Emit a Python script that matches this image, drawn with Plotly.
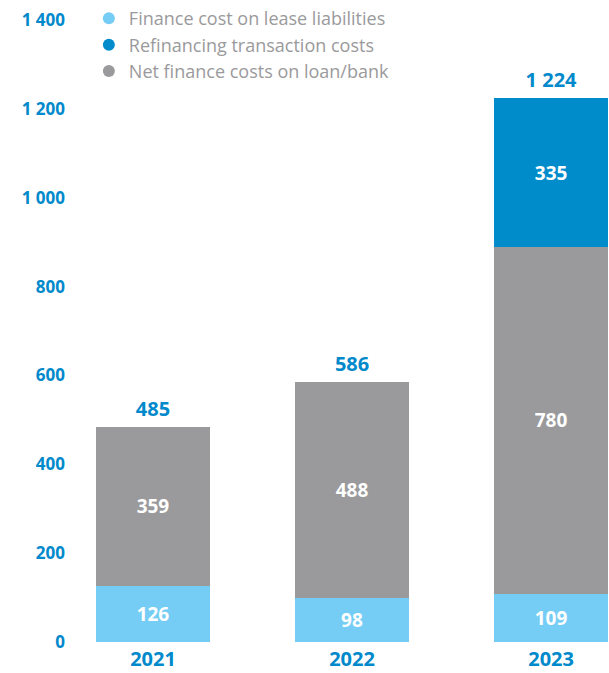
import plotly.graph_objects as go

years = ["2021", "2022", "2023"]
lease = [126, 98, 109]
net_loan = [359, 488, 780]
refin = [None, None, 335]
totals = [485, 586, 1224]
total_labels = ["485", "586", "1 224"]
ytick_vals = [0, 200, 400, 600, 800, 1000, 1200, 1400]
ytick_text = ["0", "200", "400", "600", "800", "1 000", "1 200", "1 400"]

C_LIGHT = "#75CDF5"
C_DARK = "#008BCB"
C_GRAY = "#9A9A9C"
C_TEXT = "#0089CB"
FONT = "Open Sans"

fig = go.Figure()

def bar(vals, color, name):
    fig.add_trace(go.Bar(
        x=years, y=vals, marker=dict(color=color, line=dict(width=0)),
        name=name, showlegend=False,
        text=[("" if v is None else str(v)) for v in vals],
        textposition="inside", insidetextanchor="middle",
        textfont=dict(color="white", size=19, family=FONT, weight="bold"),
        constraintext="none", hoverinfo="skip",
    ))

bar(lease, C_LIGHT, "Finance cost on lease liabilities")
bar(net_loan, C_GRAY, "Net finance costs on loan/bank")
bar(refin, C_DARK, "Refinancing transaction costs")

fig.add_trace(go.Scatter(
    x=years, y=totals, mode="markers+text", text=total_labels, textposition="top center",
    marker=dict(size=8, opacity=0),
    textfont=dict(color=C_TEXT, size=20, family=FONT, weight="bold"),
    showlegend=False, hoverinfo="skip", cliponaxis=False,
))

legend_items = [("Finance cost on lease liabilities", C_LIGHT),
                ("Refinancing transaction costs", C_DARK),
                ("Net finance costs on loan/bank", C_GRAY)]
for i, (nm, col) in enumerate(legend_items):
    fig.add_trace(go.Scatter(
        x=[None], y=[None], mode="markers", name=nm,
        marker=dict(symbol="circle", size=15, color=col),
        legendrank=i + 1, showlegend=True,
    ))

fig.update_layout(
    width=609, height=673,
    margin=dict(l=70, r=0, t=20, b=31, autoexpand=False),
    paper_bgcolor="white", plot_bgcolor="white",
    barmode="stack", bargap=0.427,
    showlegend=True,
    legend=dict(x=0.035, y=1.032, xanchor="left", yanchor="top",
                font=dict(color=C_GRAY, size=18, family=FONT),
                itemsizing="constant", tracegroupgap=0,
                bgcolor="rgba(0,0,0,0)", traceorder="normal"),
    xaxis=dict(type="category", range=[-0.417, 2.291], showgrid=False, zeroline=False,
               showline=False, ticks="",
               tickfont=dict(color=C_TEXT, size=20, family=FONT, weight="bold"),
               ticklabelstandoff=3),
    yaxis=dict(range=[0, 1400], tickvals=ytick_vals, ticktext=ytick_text,
               showgrid=False, zeroline=False, showline=False, ticks="",
               tickfont=dict(color=C_TEXT, size=17, family=FONT, weight="bold"),
               ticklabelstandoff=4),
)

fig.write_html("out.html")
